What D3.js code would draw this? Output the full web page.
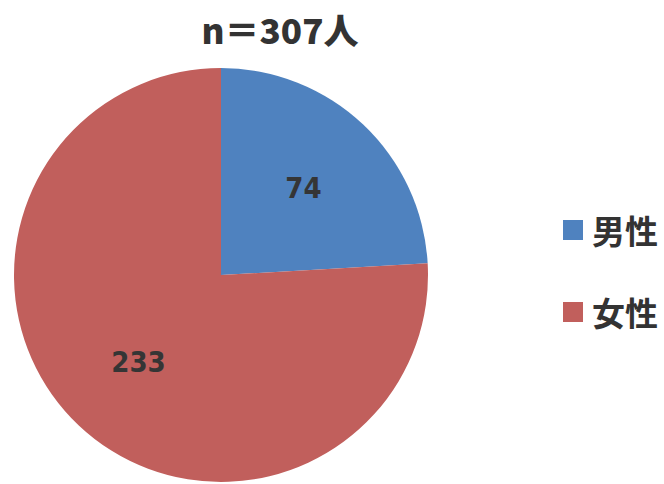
<!DOCTYPE html>
<html>
<head>
<meta charset="utf-8">
<script src="https://cdn.jsdelivr.net/npm/d3@7"></script>
<style>
  html, body { margin: 0; padding: 0; background: #fff; }
  svg { display: block; }
</style>
</head>
<body>
<svg id="chart" width="664" height="484"></svg>
<script>
const categories = ["男性", "女性"];
const values = [74, 233];
const colors = ["#4f82bf", "#c15f5c"];
const title = "n＝307人";

const svg = d3.select("#chart");
const cx = 221, cy = 275, R = 207;

const color = d3.scaleOrdinal().domain(categories).range(colors);

const data = categories.map((c, i) => ({ cat: c, value: values[i] }));
const pie = d3.pie().value(d => d.value).sort(null).startAngle(0).endAngle(2 * Math.PI);
const arcs = pie(data);
const arc = d3.arc().innerRadius(0).outerRadius(R);
const labelArc = d3.arc().innerRadius(R * 0.58).outerRadius(R * 0.58);

const g = svg.append("g").attr("transform", `translate(${cx},${cy})`);
g.selectAll("path.slice")
  .data(arcs)
  .join("path")
  .attr("class", "slice")
  .attr("d", arc)
  .attr("fill", d => color(d.data.cat));

g.selectAll("text.lbl")
  .data(arcs)
  .join("text")
  .attr("class", "lbl")
  .attr("transform", d => `translate(${labelArc.centroid(d)})`)
  .attr("text-anchor", "middle")
  .attr("dominant-baseline", "central")
  .attr("font-family", "'DejaVu Sans Condensed', 'Liberation Sans Narrow', sans-serif")
  .attr("font-weight", "bold")
  .attr("font-size", 29)
  .attr("fill", "#353535")
  .text(d => d.data.value);

// Title
svg.append("text")
  .attr("x", 280)
  .attr("y", 44)
  .attr("text-anchor", "middle")
  .attr("font-family", "'Noto Sans CJK JP', 'Noto Sans', sans-serif")
  .attr("font-weight", 900)
  .attr("font-size", 35)
  .attr("fill", "#333")
  .text(title);

// Legend
const legend = svg.append("g").attr("transform", "translate(563,220)");
const items = legend.selectAll("g.item")
  .data(categories)
  .join("g")
  .attr("class", "item")
  .attr("transform", (d, i) => `translate(0,${i * 82})`);
items.append("rect")
  .attr("width", 20).attr("height", 20)
  .attr("fill", d => color(d));
items.append("text")
  .attr("x", 29)
  .attr("y", 10)
  .attr("dominant-baseline", "central")
  .attr("font-family", "'Noto Sans CJK JP', 'Noto Sans', sans-serif")
  .attr("font-weight", "bold")
  .attr("font-size", 33)
  .attr("fill", "#333")
  .text(d => d);
</script>
</body>
</html>
